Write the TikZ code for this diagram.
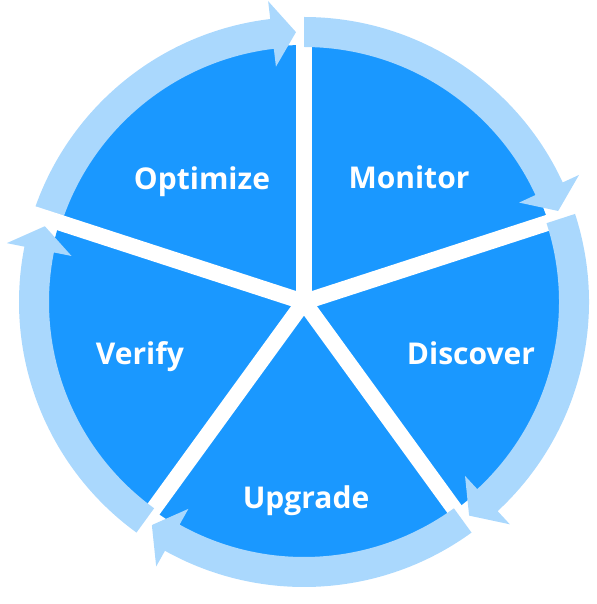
\documentclass[tikz,border=0pt]{standalone}
\usepackage{fontspec}
\setmainfont{Open Sans}
\usepackage{tikz}
\definecolor{cycleblue}{RGB}{26,152,255}
\definecolor{ringblue}{RGB}{170,216,253}
\tikzset{
  stage/.style={text=white,font=\fontsize{30}{34}\selectfont\bfseries,anchor=base},
  gapline/.style={white,line width=16pt}
}

\begin{document}
\begin{tikzpicture}[x=1pt,y=1pt]
\useasboundingbox (-304,-302) rectangle (292,302);
\fill[cycleblue] (0,0) circle[radius=257pt];
% ring arrows, one per stage, ending at each gap
\foreach \g in {90,18,-54,-126,162}{
  \fill[ringblue] (\g+72:255pt) arc[start angle=\g+72,end angle=\g+6.8,radius=255pt]
    -- (\g+6.8:237pt) -- (\g+1.7:270pt) -- (\g+6.8:303pt) -- (\g+6.8:285pt)
    arc[start angle=\g+6.8,end angle=\g+72,radius=285pt] -- cycle;
  \draw[gapline] (0,0) -- (\g:312pt);
}
\node[stage] (monitor) at (105,113) {Monitor};
\node[stage] (discover) at (167,-63) {Discover};
\node[stage] (upgrade) at (2,-206) {Upgrade};
\node[stage] (verify) at (-164,-63) {Verify};
\node[stage] (optimize) at (-102,112) {Optimize};
\end{tikzpicture}
\end{document}
